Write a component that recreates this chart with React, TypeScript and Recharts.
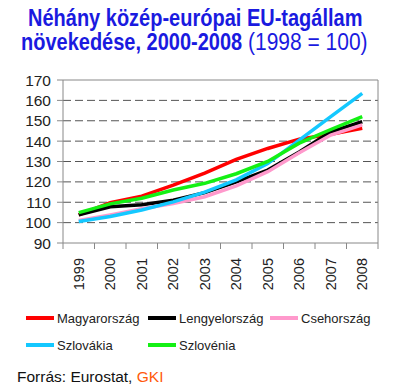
import React from 'react';
import { LineChart, Line, XAxis, YAxis, CartesianGrid, ReferenceLine } from 'recharts';

const years = ['1999', '2000', '2001', '2002', '2003', '2004', '2005', '2006', '2007', '2008'];
const hungary = [103.8, 109.8, 113, 118.4, 124.3, 131, 136.4, 141, 143.4, 146.3];
const poland = [103.8, 107.8, 108.8, 111, 114.7, 120, 125.8, 134.7, 144.6, 149.5];
const czech = [101, 103.8, 106.8, 109.4, 112.7, 118, 125, 134.3, 143, 148];
const slovakia = [100.6, 103, 106.2, 110.2, 115, 121, 129, 140.5, 152, 163.4];
const slovenia = [104.9, 109.2, 112, 116, 119.3, 124, 130, 139, 145.7, 152];
const yTicks = [90, 100, 110, 120, 130, 140, 150, 160, 170];
const gridValues = [100, 110, 120, 130, 140, 150, 160];

const series = [
  { key: 'hu', name: 'Magyarország', color: '#ff0000' },
  { key: 'pl', name: 'Lengyelország', color: '#000000' },
  { key: 'cz', name: 'Csehország', color: '#ff99cc' },
  { key: 'sk', name: 'Szlovákia', color: '#14c8ff' },
  { key: 'si', name: 'Szlovénia', color: '#14f014' },
];

const data = years.map((y, i) => ({
  x: i,
  year: y,
  hu: hungary[i],
  pl: poland[i],
  cz: czech[i],
  sk: slovakia[i],
  si: slovenia[i],
}));

const xTicks: number[] = [];
for (let i = 0; i <= years.length; i++) {
  xTicks.push(i - 0.5);
  if (i < years.length) xTicks.push(i);
}

const FONT = '"Liberation Sans", Arial, sans-serif';

const XTick = (props: any) => {
  const { x, y, payload } = props;
  const v = payload.value;
  if (!Number.isInteger(v)) {
    return <line x1={x} x2={x} y1={y - 8} y2={y - 2} stroke="#888" strokeWidth={1} />;
  }
  return (
    <text
      x={x}
      y={y + 7}
      transform={`rotate(-90 ${x} ${y + 7})`}
      textAnchor="end"
      dominantBaseline="central"
      fontSize={14.5}
      fontFamily={FONT}
      fill="#222"
    >
      {years[v]}
    </text>
  );
};

const LegendBlock = () => (
  <div style={{ position: 'absolute', left: 0, top: 308, width: 400, height: 60, fontFamily: FONT }}>
    {series.map((s, i) => {
      const col = i % 3;
      const row = Math.floor(i / 3);
      return (
        <div
          key={s.key}
          style={{
            position: 'absolute',
            left: 26 + col * 122,
            top: row * 27,
            display: 'flex',
            alignItems: 'center',
            height: 20,
          }}
        >
          <div style={{ width: 28, height: 4, background: s.color, marginRight: 3 }} />
          <span style={{ fontSize: 13, color: '#222', whiteSpace: 'nowrap' }}>{s.name}</span>
        </div>
      );
    })}
  </div>
);

export default function App() {
  return (
    <div style={{ position: 'absolute', left: 0, top: 0, width: 400, height: 392, background: '#fff' }}>
      <svg width={400} height={60} style={{ position: 'absolute', left: 0, top: 0 }}>
        <g transform="translate(28 26) scale(1 1.15)">
          <text x={0} y={0} fontSize={20} fontWeight="bold" fill="#1a1ae0" fontFamily={FONT}>
            Néhány közép-európai EU-tagállam
          </text>
        </g>
        <g transform="translate(21 50) scale(1 1.15)">
          <text x={0} y={0} fontSize={20} fontWeight="bold" fill="#1a1ae0" fontFamily={FONT}>
            növekedése, 2000-2008
          </text>
        </g>
        <g transform="translate(248 50) scale(1 1.1)">
          <text x={0} y={0} fontSize={21} fill="#1a1ae0" fontFamily={FONT}>
            (1998 = 100)
          </text>
        </g>
      </svg>
      <div style={{ position: 'absolute', left: 0, top: 0 }}>
        <LineChart width={400} height={392} data={data} margin={{ top: 80, right: 22, bottom: 89, left: 3 }}>
          <CartesianGrid vertical={false} horizontalValues={gridValues} stroke="#555" strokeDasharray="8 4" />
          <XAxis
            type="number"
            dataKey="x"
            domain={[-0.5, years.length - 0.5]}
            ticks={xTicks}
            interval={0}
            tick={<XTick />}
            tickLine={false}
            axisLine={{ stroke: '#888' }}
            height={60}
          />
          <YAxis
            domain={[90, 170]}
            ticks={yTicks}
            interval={0}
            width={60}
            axisLine={{ stroke: '#888' }}
            tickLine={{ stroke: '#888' }}
            tickSize={6}
            tickMargin={6}
            tick={{ fontSize: 15.5, fill: '#222', fontFamily: FONT }}
          />
          <ReferenceLine y={170} stroke="#888" />
          <ReferenceLine x={years.length - 0.5} stroke="#888" />
          {series.map((s) => (
            <Line
              key={s.key}
              type="linear"
              dataKey={s.key}
              name={s.name}
              stroke={s.color}
              strokeWidth={3.5}
              dot={false}
              isAnimationActive={false}
            />
          ))}
        </LineChart>
      </div>
      <LegendBlock />
      <div style={{ position: 'absolute', left: 17, top: 368, fontFamily: FONT, fontSize: 15.5, color: '#111' }}>
        Forrás: Eurostat, <span style={{ color: '#ff5a0a' }}>GKI</span>
      </div>
    </div>
  );
}
